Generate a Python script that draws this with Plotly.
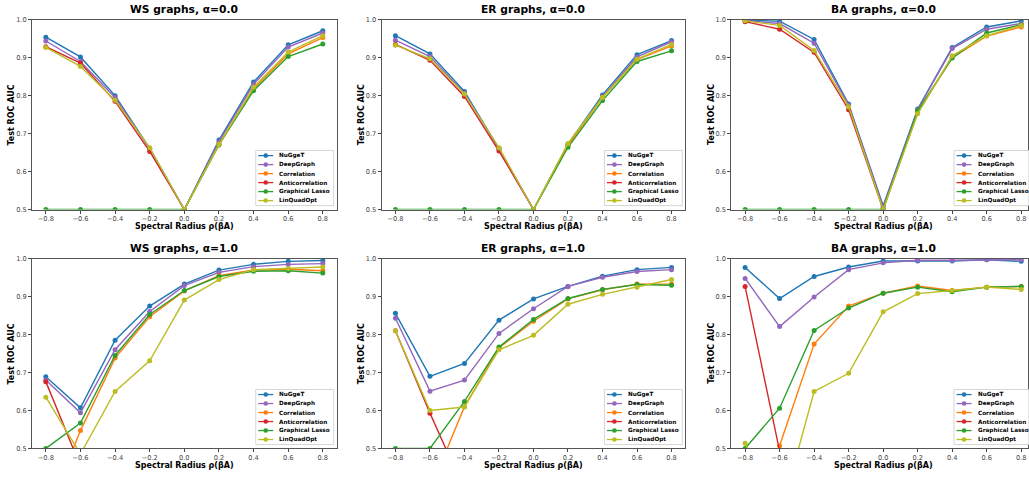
import plotly.graph_objects as go

W, H = 1029, 478

rho = [-0.8, -0.6, -0.4, -0.2, 0.0, 0.2, 0.4, 0.6, 0.8]
methods = ["NuGgeT", "DeepGraph", "Correlation", "Anticorrelation", "Graphical Lasso", "LinQuadOpt"]
colors = ["#1f77b4", "#9467bd", "#ff7f0e", "#d62728", "#2ca02c", "#bcbd22"]
panel_titles = ["WS graphs, α=0.0", "ER graphs, α=0.0", "BA graphs, α=0.0",
                "WS graphs, α=1.0", "ER graphs, α=1.0", "BA graphs, α=1.0"]
y_ticks = [0.5, 0.6, 0.7, 0.8, 0.9, 1.0]
x_title = "Spectral Radius ρ(βA)"
y_title = "Test ROC AUC"

# ---- WS, alpha = 0.0
ws_a0_nugget = [0.954, 0.902, 0.800, 0.661, 0.500, 0.683, 0.836, 0.934, 0.971]
ws_a0_deepgraph = [0.944, 0.890, 0.795, 0.660, 0.500, 0.678, 0.830, 0.928, 0.965]
ws_a0_correlation = [0.071, 0.114, 0.215, 0.347, 0.500, 0.672, 0.818, 0.910, 0.953]
ws_a0_anticorrelation = [0.929, 0.886, 0.785, 0.653, 0.500, 0.328, 0.182, 0.090, 0.047]
ws_a0_glasso = [0.500, 0.500, 0.500, 0.500, 0.500, 0.670, 0.813, 0.903, 0.936]
ws_a0_linquadopt = [0.927, 0.877, 0.788, 0.663, 0.500, 0.671, 0.822, 0.915, 0.958]

# ---- ER, alpha = 0.0
er_a0_nugget = [0.958, 0.910, 0.811, 0.660, 0.500, 0.672, 0.802, 0.908, 0.945]
er_a0_deepgraph = [0.946, 0.903, 0.806, 0.660, 0.500, 0.670, 0.797, 0.902, 0.942]
er_a0_correlation = [0.065, 0.107, 0.202, 0.346, 0.500, 0.668, 0.795, 0.895, 0.931]
er_a0_anticorrelation = [0.935, 0.893, 0.798, 0.654, 0.500, 0.332, 0.205, 0.105, 0.069]
er_a0_glasso = [0.500, 0.500, 0.500, 0.500, 0.500, 0.664, 0.787, 0.890, 0.918]
er_a0_linquadopt = [0.933, 0.897, 0.804, 0.663, 0.500, 0.674, 0.795, 0.896, 0.935]

# ---- BA, alpha = 0.0
ba_a0_nugget = [0.999, 0.996, 0.948, 0.778, 0.510, 0.765, 0.927, 0.981, 0.997]
ba_a0_deepgraph = [0.998, 0.990, 0.938, 0.775, 0.505, 0.763, 0.924, 0.975, 0.990]
ba_a0_correlation = [0.005, 0.025, 0.086, 0.237, 0.500, 0.755, 0.900, 0.957, 0.981]
ba_a0_anticorrelation = [0.995, 0.975, 0.914, 0.763, 0.500, 0.245, 0.100, 0.043, 0.019]
ba_a0_glasso = [0.500, 0.500, 0.500, 0.500, 0.500, 0.760, 0.899, 0.965, 0.987]
ba_a0_linquadopt = [0.997, 0.985, 0.919, 0.771, 0.500, 0.752, 0.905, 0.958, 0.985]

# ---- WS, alpha = 1.0
ws_a1_nugget = [0.689, 0.607, 0.785, 0.875, 0.933, 0.970, 0.985, 0.993, 0.995]
ws_a1_deepgraph = [0.680, 0.594, 0.760, 0.861, 0.929, 0.964, 0.979, 0.985, 0.987]
ws_a1_correlation = [0.320, 0.547, 0.738, 0.847, 0.915, 0.955, 0.970, 0.972, 0.968]
ws_a1_anticorrelation = [0.676, 0.453, 0.262, 0.153, 0.085, 0.045, 0.030, 0.028, 0.032]
ws_a1_glasso = [0.500, 0.567, 0.745, 0.853, 0.916, 0.953, 0.967, 0.968, 0.962]
ws_a1_linquadopt = [0.635, 0.485, 0.650, 0.731, 0.891, 0.945, 0.971, 0.974, 0.978]

# ---- ER, alpha = 1.0
er_a1_nugget = [0.856, 0.690, 0.724, 0.838, 0.894, 0.927, 0.954, 0.971, 0.977]
er_a1_deepgraph = [0.843, 0.651, 0.680, 0.803, 0.868, 0.927, 0.951, 0.966, 0.971]
er_a1_correlation = [0.190, 0.390, 0.610, 0.765, 0.835, 0.894, 0.918, 0.933, 0.933]
er_a1_anticorrelation = [0.810, 0.593, 0.390, 0.235, 0.165, 0.106, 0.082, 0.067, 0.067]
er_a1_glasso = [0.500, 0.500, 0.624, 0.767, 0.840, 0.895, 0.919, 0.932, 0.930]
er_a1_linquadopt = [0.810, 0.600, 0.609, 0.760, 0.798, 0.880, 0.906, 0.925, 0.945]

# ---- BA, alpha = 1.0
ba_a1_nugget = [0.977, 0.895, 0.953, 0.978, 0.994, 0.994, 0.994, 0.997, 0.993]
ba_a1_deepgraph = [0.948, 0.821, 0.899, 0.971, 0.989, 0.996, 0.996, 0.997, 0.997]
ba_a1_correlation = [0.073, 0.507, 0.775, 0.875, 0.909, 0.928, 0.916, 0.925, 0.927]
ba_a1_anticorrelation = [0.927, 0.493, 0.225, 0.125, 0.091, 0.072, 0.084, 0.075, 0.073]
ba_a1_glasso = [0.500, 0.606, 0.811, 0.870, 0.909, 0.925, 0.913, 0.925, 0.927]
ba_a1_linquadopt = [0.514, 0.317, 0.650, 0.698, 0.860, 0.908, 0.916, 0.925, 0.919]

panels = [
    [ws_a0_nugget, ws_a0_deepgraph, ws_a0_correlation, ws_a0_anticorrelation, ws_a0_glasso, ws_a0_linquadopt],
    [er_a0_nugget, er_a0_deepgraph, er_a0_correlation, er_a0_anticorrelation, er_a0_glasso, er_a0_linquadopt],
    [ba_a0_nugget, ba_a0_deepgraph, ba_a0_correlation, ba_a0_anticorrelation, ba_a0_glasso, ba_a0_linquadopt],
    [ws_a1_nugget, ws_a1_deepgraph, ws_a1_correlation, ws_a1_anticorrelation, ws_a1_glasso, ws_a1_linquadopt],
    [er_a1_nugget, er_a1_deepgraph, er_a1_correlation, er_a1_anticorrelation, er_a1_glasso, er_a1_linquadopt],
    [ba_a1_nugget, ba_a1_deepgraph, ba_a1_correlation, ba_a1_anticorrelation, ba_a1_glasso, ba_a1_linquadopt],
]

# ---- geometry (pixels)
FONT = "DejaVu Sans"
col_px = [(32, 337), (382, 686), (732, 1036)]
row_px = [(16, 209), (259, 452)]
X_LO, X_HI = -0.88, 0.88


def px(x):
    return x / W


def py(y):
    return 1 - y / H


fig = go.Figure()
layout = dict(
    width=W, height=H, margin=dict(l=0, r=0, t=0, b=0),
    paper_bgcolor="white", plot_bgcolor="white",
    font=dict(family=FONT, color="#333"),
    showlegend=False,
)
annotations = []
shapes = []

for i, series in enumerate(panels):
    r, c = divmod(i, 3)
    sfx = "" if i == 0 else str(i + 1)
    x0, x1 = col_px[c]
    y0, y1 = row_px[r]
    ppu = (x1 - x0) / (X_HI - X_LO)
    xr_hi = X_HI
    dom_x1 = x1 / W
    if x1 > W:
        xr_hi = X_LO + (W - x0) / ppu
        dom_x1 = 1.0
    for k, vals in enumerate(series):
        fig.add_trace(go.Scatter(
            x=rho, y=vals, mode="lines+markers", name=methods[k],
            line=dict(color=colors[k], width=1.4),
            marker=dict(color=colors[k], size=5),
            xaxis="x" + sfx, yaxis="y" + sfx, showlegend=False,
        ))
    axstyle = dict(showline=True, linecolor="#555", linewidth=1, mirror=True,
                   ticks="outside", ticklen=3, tickwidth=0.8, tickcolor="#444",
                   tickfont=dict(size=6.6, color="#444", family=FONT),
                   showgrid=False, zeroline=False, tickformat=".1f",
                   ticklabeloverflow="allow")
    layout["xaxis" + sfx] = dict(domain=[x0 / W, dom_x1], range=[X_LO, xr_hi],
                                 anchor="y" + sfx, tickvals=rho, **axstyle)
    layout["yaxis" + sfx] = dict(domain=[1 - y1 / H, 1 - y0 / H], range=[0.5, 1.0],
                                 anchor="x" + sfx, tickvals=y_ticks, **axstyle)
    # titles
    cx = (x0 + x1) / 2
    annotations.append(dict(text=panel_titles[i], x=px(cx), y=py(y0 - 1.5), xref="paper", yref="paper",
                            xanchor="center", yanchor="bottom", showarrow=False,
                            font=dict(size=10.7, color="black", family=FONT, weight="bold")))
    annotations.append(dict(text=x_title, x=px(cx), y=py(y1 + 17), xref="paper", yref="paper",
                            xanchor="center", yanchor="middle", showarrow=False,
                            font=dict(size=8, color="black", family=FONT, weight="bold")))
    annotations.append(dict(text=y_title, x=px(x0 - 20), y=py((y0 + y1) / 2), xref="paper", yref="paper",
                            xanchor="center", yanchor="middle", showarrow=False, textangle=-90,
                            font=dict(size=8, color="black", family=FONT, weight="bold")))
    # legend
    bx1 = x1 - 3
    bx0 = bx1 - 78
    by1 = y1 - 4
    by0 = by1 - 56
    shapes.append(dict(type="rect", xref="paper", yref="paper", layer="above",
                       x0=px(bx0), x1=px(bx1), y0=py(by1), y1=py(by0),
                       fillcolor="rgba(255,255,255,0.85)", line=dict(color="#cccccc", width=0.8)))
    for k, name in enumerate(methods):
        ry = by0 + 5.2 + k * 9.15
        shapes.append(dict(type="line", xref="paper", yref="paper", layer="above",
                           x0=px(bx0 + 2.5), x1=px(bx0 + 17.5), y0=py(ry), y1=py(ry),
                           line=dict(color=colors[k], width=1.3)))
        shapes.append(dict(type="circle", xref="paper", yref="paper", layer="above",
                           x0=px(bx0 + 10 - 2.3), x1=px(bx0 + 10 + 2.3),
                           y0=py(ry + 2.3), y1=py(ry - 2.3),
                           fillcolor=colors[k], line=dict(width=0)))
        annotations.append(dict(text=name, x=px(bx0 + 21.5), y=py(ry), xref="paper", yref="paper",
                                xanchor="left", yanchor="middle", showarrow=False,
                                font=dict(size=5.7, color="black", family=FONT, weight="bold")))

layout["annotations"] = annotations
layout["shapes"] = shapes
fig.update_layout(**layout)
fig.write_html(
    "out.html",
    config={"displayModeBar": False},
    post_script="document.body.style.margin='0';document.body.style.overflow='hidden';",
)
